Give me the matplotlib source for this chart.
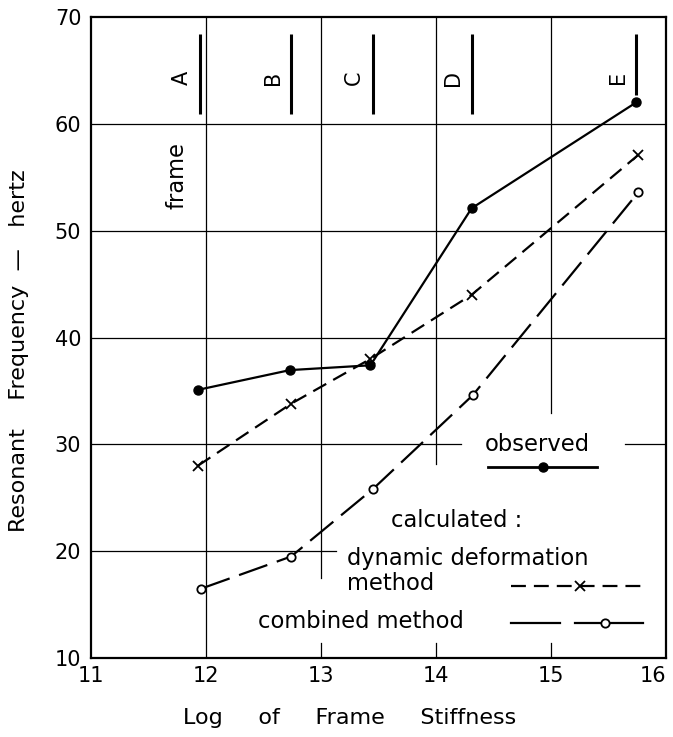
import matplotlib
matplotlib.use('Agg')
import matplotlib.pyplot as plt
from matplotlib.lines import Line2D

plt.rcParams['font.family'] = ['DejaVu Sans']

# frame positions (log stiffness) and resonant frequencies
x_obs = [11.93, 12.73, 13.43, 14.31, 15.74]
y_obs = [35.1, 36.95, 37.4, 52.1, 62.0]
x_dyn = [11.93, 12.74, 13.43, 14.31, 15.76]
y_dyn = [28.0, 33.8, 38.0, 44.0, 57.1]
x_comb = [11.96, 12.74, 13.45, 14.32, 15.76]
y_comb = [16.5, 19.5, 25.8, 34.6, 53.6]

frames = ['A', 'B', 'C', 'D', 'E']
frame_x = [11.95, 12.74, 13.45, 14.31, 15.74]

xticks = [11, 12, 13, 14, 15, 16]
yticks = [10, 20, 30, 40, 50, 60, 70]

fs = 15
fs_leg = 16.3

fig = plt.figure(figsize=(6.73, 7.37), dpi=100)
ax = fig.add_axes([0.1352, 0.1072, 0.8544, 0.8697])
ax.set_xlim(11, 16)
ax.set_ylim(10, 70)

lw_grid = 0.9
# partial grid like the original drawing
ax.plot([12, 12], [10, 70], color='k', lw=lw_grid)
ax.plot([13, 13], [17.5, 70], color='k', lw=lw_grid)
ax.plot([14, 14], [28.2, 70], color='k', lw=lw_grid)
ax.plot([15, 15], [32.9, 70], color='k', lw=lw_grid)
for xv in [13, 14, 15]:
    ax.plot([xv, xv], [10, 11.4], color='k', lw=lw_grid)
for yv in [40, 50, 60]:
    ax.plot([11, 16], [yv, yv], color='k', lw=lw_grid)
ax.plot([11, 14.22], [30, 30], color='k', lw=lw_grid)
ax.plot([15.64, 16], [30, 30], color='k', lw=lw_grid)
ax.plot([11, 13.13], [20, 20], color='k', lw=lw_grid)

# data
ax.plot(x_obs, y_obs, color='k', lw=1.6, marker='o', ms=6.5, mfc='k', mec='k')
ax.plot(x_dyn, y_dyn, color='k', lw=1.6, dashes=(6.7, 3.6), marker='x', ms=6.5, mew=1.3)
ax.plot(x_comb, y_comb, color='k', lw=1.6, dashes=(13.5, 4.5), marker='o', ms=6,
        mfc='white', mec='k', mew=1.3)

# frame markers
for name, fx in zip(frames, frame_x):
    top = 68.4
    bot = 62.7 if name == 'E' else 60.9
    ax.plot([fx, fx], [bot, top], color='k', lw=2.2, solid_capstyle='butt')
    ax.text(fx - 0.16, 64.3, name, rotation=90, ha='center', va='center', fontsize=fs)
ax.text(11.75, 55.2, 'frame', rotation=90, ha='center', va='center', fontsize=fs_leg)

# legend
ax.text(14.42, 30, 'observed', ha='left', va='center', fontsize=fs_leg)
ax.add_line(Line2D([14.45, 15.4], [27.9, 27.9], color='k', lw=2))
ax.plot([14.93], [27.9], marker='o', color='k', ms=6.5)
ax.text(13.61, 22.9, 'calculated :', ha='left', va='center', fontsize=fs_leg)
ax.text(13.23, 19.3, 'dynamic deformation', ha='left', va='center', fontsize=fs_leg)
ax.text(13.23, 16.95, 'method', ha='left', va='center', fontsize=fs_leg)
ax.add_line(Line2D([14.65, 15.8], [16.7, 16.7], color='k', lw=1.6, dashes=(6.7, 3.6)))
ax.plot([15.25], [16.7], marker='x', color='k', ms=6.5, mew=1.3)
ax.text(12.45, 13.4, 'combined method', ha='left', va='center', fontsize=fs_leg)
ax.add_line(Line2D([14.65, 15.08], [13.3, 13.3], color='k', lw=1.6))
ax.add_line(Line2D([15.21, 15.8], [13.3, 13.3], color='k', lw=1.6))
ax.plot([15.47], [13.3], marker='o', color='k', ms=6, mfc='white', mew=1.3)

ax.set_xticks(xticks)
ax.set_yticks(yticks)
ax.tick_params(length=0, labelsize=fs)
ax.tick_params(axis='x', pad=6)
ax.tick_params(axis='y', pad=7)
ax.get_xticklabels()[-1].set_ha('right')
for s in ax.spines.values():
    s.set_linewidth(1.6)

fig.text(0.52, 0.026, 'Log     of     Frame     Stiffness', fontsize=16, ha='center', va='center')
ax.set_ylabel('Resonant    Frequency  —   hertz', fontsize=16, va='center')
ax.yaxis.set_label_coords(-0.125, 0.48)

fig.savefig('out.png', dpi=100)
